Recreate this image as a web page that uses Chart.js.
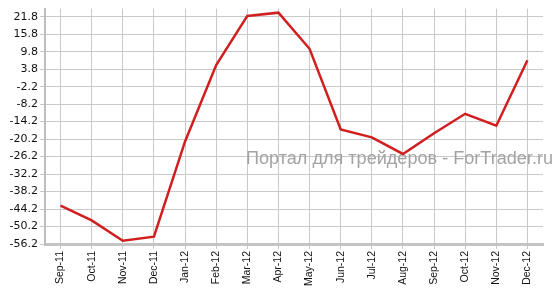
<!DOCTYPE html>
<html>
<head>
<meta charset="utf-8">
<script src="https://cdn.jsdelivr.net/npm/chart.js@4/dist/chart.umd.min.js"></script>
<style>
html,body{margin:0;padding:0;background:#fff;}
#wrap{width:560px;height:295px;}
</style>
</head>
<body>
<div id="wrap"><canvas id="grafico" width="560" height="295"></canvas></div>
<script>
const meses=['Sep-11','Oct-11','Nov-11','Dec-11','Jan-12','Feb-12','Mar-12','Apr-12','May-12','Jun-12','Jul-12','Aug-12','Sep-12','Oct-12','Nov-12','Dec-12'];
const valores=[-43.0,-48.1,-55.1,-53.7,-21.0,5.2,22.1,23.2,10.8,-16.9,-19.6,-25.3,-18.2,-11.5,-15.6,6.9];
const ticksY=[21.8,15.8,9.8,3.8,-2.2,-8.2,-14.2,-20.2,-26.2,-32.2,-38.2,-44.2,-50.2,-56.2];
const marcaDagua='Портал для трейдеров - ForTrader.ru';

const fonteY={family:'DejaVu Sans',size:11};
const fonteX={family:'Liberation Sans',size:10.5};

// marca d'agua cinza por tras da linha, ajustada pra ~307px de largura
const pluginMarca={
  id:'marca',
  beforeDatasetsDraw(chart){
    const ctx=chart.ctx;
    ctx.save();
    ctx.font='17px "Liberation Sans"';
    const w=ctx.measureText(marcaDagua).width;
    const tam=17*307/w;
    ctx.font=tam.toFixed(2)+'px "Liberation Sans"';
    ctx.fillStyle='#a3a3a3';
    ctx.textBaseline='alphabetic';
    ctx.fillText(marcaDagua,246,164);
    ctx.restore();
  }
};

new Chart(document.getElementById('grafico').getContext('2d'),{
  type:'line',
  data:{labels:meses,datasets:[{data:valores,borderColor:'#d11f1f',borderWidth:2.5,pointRadius:0,tension:0,fill:false}]},
  options:{
    responsive:false,animation:false,
    layout:{padding:{top:5,right:17,left:0,bottom:0}},
    plugins:{legend:{display:false},tooltip:{enabled:false}},
    scales:{
      x:{
        offset:true,
        grid:{offset:false,color:'#c9c9c9',lineWidth:1,tickLength:5,drawTicks:true},
        border:{color:'#c4c4c4',width:3},
        ticks:{color:'#111',font:fonteX,minRotation:90,maxRotation:90,autoSkip:false,padding:2},
        afterFit(s){s.height=51;}
      },
      y:{
        min:-56.2,max:24.6,
        afterBuildTicks(s){s.ticks=ticksY.map(v=>({value:v}));},
        grid:{color:'#c9c9c9',lineWidth:1,tickLength:5},
        border:{color:'#bdbdbd',width:2},
        ticks:{color:'#111',font:fonteY,padding:2,callback:(v)=>v.toFixed(1)},
        afterFit(s){s.width=45;}
      }
    }
  },
  plugins:[pluginMarca]
});
</script>
</body>
</html>
